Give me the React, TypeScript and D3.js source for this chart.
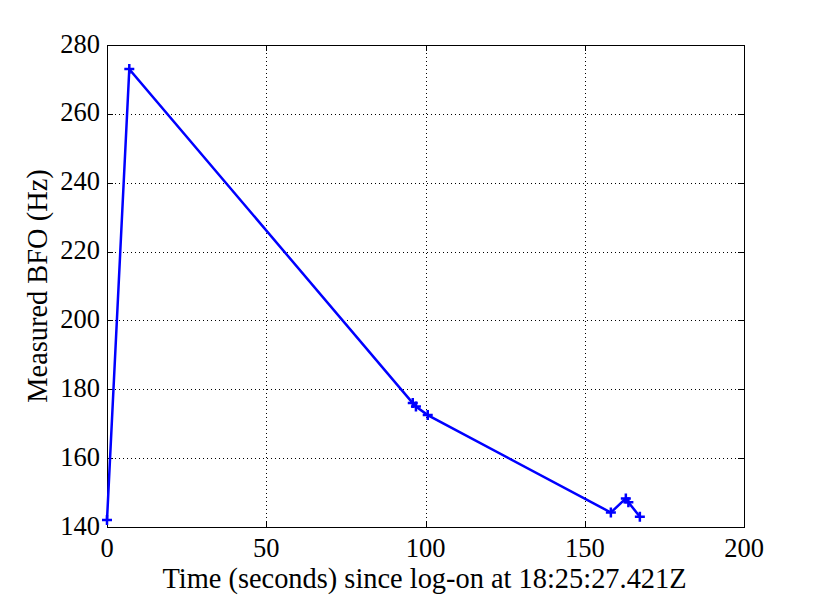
import React, { useEffect, useRef } from "react";
import * as d3 from "d3";

// time since log-on (s) and measured BFO (Hz)
const times = [0, 7, 96, 97, 100.7, 158.2, 162.9, 163.7, 167.3];
const bfo = [142, 273, 176, 175, 172.5, 144.2, 148.3, 147.2, 143];

const xTicks = [0, 50, 100, 150, 200];
const yTicks = [140, 160, 180, 200, 220, 240, 260, 280];

const xLabel = "Time (seconds) since log-on at 18:25:27.421Z";
const yLabel = "Measured BFO (Hz)";

export default function App() {
  const ref = useRef<SVGSVGElement>(null);
  const width = 822;
  const height = 596;
  const margin = { top: 45, right: 78, bottom: 69, left: 107 };

  useEffect(() => {
    const svg = d3.select(ref.current);
    svg.selectAll("*").remove();

    const x = d3.scaleLinear().domain([0, 200]).range([margin.left, width - margin.right]);
    const y = d3.scaleLinear().domain([140, 280]).range([height - margin.bottom, margin.top]);
    const font = "'Liberation Serif', 'Times New Roman', serif";
    const [x0, x1] = x.range();
    const [y0, y1] = y.range();

    svg.append("rect").attr("width", width).attr("height", height).attr("fill", "#fff");

    // dotted grid
    const grid = svg.append("g").attr("stroke", "#000").attr("stroke-width", 1).attr("stroke-dasharray", "1,3");
    xTicks.slice(1, -1).forEach((t) => {
      grid.append("line").attr("x1", Math.round(x(t)) + 0.5).attr("x2", Math.round(x(t)) + 0.5).attr("y1", y1).attr("y2", y0);
    });
    yTicks.slice(1, -1).forEach((t) => {
      grid.append("line").attr("y1", Math.round(y(t)) + 0.5).attr("y2", Math.round(y(t)) + 0.5).attr("x1", x0).attr("x2", x1);
    });

    // inward ticks on all four sides
    const tk = svg.append("g").attr("stroke", "#000").attr("stroke-width", 1);
    const tl = 6;
    xTicks.forEach((t) => {
      const px = Math.round(x(t)) + 0.5;
      tk.append("line").attr("x1", px).attr("x2", px).attr("y1", y0).attr("y2", y0 - tl);
      tk.append("line").attr("x1", px).attr("x2", px).attr("y1", y1).attr("y2", y1 + tl);
    });
    yTicks.forEach((t) => {
      const py = Math.round(y(t)) + 0.5;
      tk.append("line").attr("y1", py).attr("y2", py).attr("x1", x0).attr("x2", x0 + tl);
      tk.append("line").attr("y1", py).attr("y2", py).attr("x1", x1).attr("x2", x1 - tl);
    });

    // box
    svg.append("rect")
      .attr("x", x0 + 0.5).attr("y", y1 + 0.5)
      .attr("width", x1 - x0).attr("height", y0 - y1)
      .attr("fill", "none").attr("stroke", "#000").attr("stroke-width", 1);

    // tick labels
    svg.append("g").selectAll("text").data(xTicks).join("text")
      .attr("x", (d) => x(d)).attr("y", y0 + 30)
      .attr("text-anchor", "middle")
      .attr("font-family", font).attr("font-size", 26.5)
      .text((d) => d);
    svg.append("g").selectAll("text").data(yTicks).join("text")
      .attr("x", x0 - 7).attr("y", (d) => y(d) + 7.5)
      .attr("text-anchor", "end")
      .attr("font-family", font).attr("font-size", 26.5)
      .text((d) => d);

    // axis titles
    svg.append("text")
      .attr("x", (x0 + x1) / 2 - 1).attr("y", y0 + 61)
      .attr("text-anchor", "middle")
      .attr("font-family", font).attr("font-size", 28.4)
      .text(xLabel);
    svg.append("text")
      .attr("transform", `translate(47, ${(y0 + y1) / 2}) rotate(-90)`)
      .attr("text-anchor", "middle")
      .attr("font-family", font).attr("font-size", 28.4)
      .text(yLabel);

    // data line and + markers
    const pts = times.map((t, i) => [t, bfo[i]] as [number, number]);
    const line = d3.line<[number, number]>().x((d) => x(d[0])).y((d) => y(d[1]));
    svg.append("path").datum(pts)
      .attr("d", line)
      .attr("fill", "none").attr("stroke", "#0000ff").attr("stroke-width", 2.5);
    const m = 5;
    svg.append("g").selectAll("path").data(pts).join("path")
      .attr("d", (d) => {
        const px = x(d[0]);
        const py = y(d[1]);
        return `M${px - m},${py}H${px + m}M${px},${py - m}V${py + m}`;
      })
      .attr("stroke", "#0000ff").attr("stroke-width", 2.5).attr("fill", "none");
  }, []);

  return (
    <svg ref={ref} width={width} height={height} style={{ position: "absolute", left: 0, top: 0 }} />
  );
}
